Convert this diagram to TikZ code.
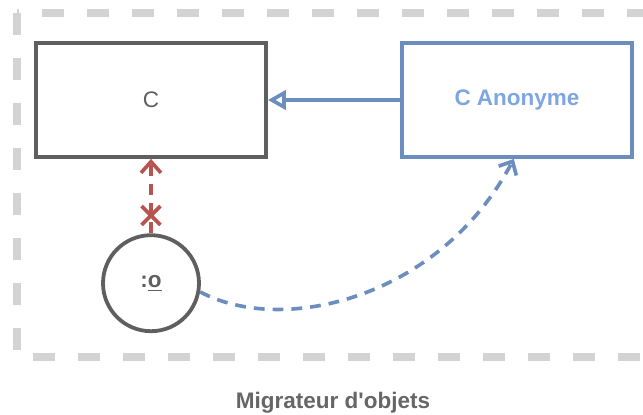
\documentclass[tikz,border=0pt]{standalone}
\usepackage{fontspec}
\setmainfont{Liberation Sans}
\usepackage{tikz}
\usetikzlibrary{shapes, shapes.misc, arrows.meta}
\definecolor{boxgray}{HTML}{5F5F5F}
\definecolor{anonblue}{HTML}{6C8EBF}
\definecolor{anontext}{HTML}{7EA6E0}
\definecolor{bloquered}{HTML}{B85450}
\definecolor{cadregray}{HTML}{D3D3D3}
\definecolor{titregray}{HTML}{666666}
\tikzstyle{classbox} = [draw=boxgray, rectangle, line width=2.7pt, minimum width=5.75cm, minimum height=2.85cm, align=center, text=boxgray, font=\fontsize{16}{19}\selectfont]
\tikzstyle{anonbox} = [classbox, draw=anonblue, text=anontext, font=\fontsize{16}{19}\selectfont\bfseries]
\tikzstyle{objet} = [draw=boxgray, circle, line width=2.7pt, minimum size=2.4cm, inner sep=0pt, text=boxgray, font=\fontsize{16}{19}\selectfont\bfseries]
\tikzstyle{herit} = [-{Triangle[open, length=0.45cm, width=0.48cm]}, draw=anonblue, line width=2.6pt]
\tikzstyle{migre} = [-{Straight Barb[length=0.27cm, width=0.5cm]}, draw=anonblue, line width=2.6pt, dash pattern=on 0.27cm off 0.2cm]
\tikzstyle{bloque} = [-{Straight Barb[length=0.28cm, width=0.5cm]}, draw=bloquered, line width=2.6pt, dash pattern=on 0.28cm off 0.2cm]
\tikzstyle{croix} = [cross out, draw=bloquered, solid, line width=2.6pt, minimum size=0.38cm, inner sep=0pt]
\tikzstyle{cadre} = [draw=cadregray, line width=5pt, dash pattern=on 0.55cm off 0.575cm]
\tikzstyle{titre} = [text=titregray, font=\fontsize{16}{19}\selectfont\bfseries]

\begin{document}
\begin{tikzpicture}
    \useasboundingbox (0,0) rectangle (16.075,-10.35);
    \draw[cadre] (0.425,-0.325) rectangle (16.6,-8.925);
    \node[classbox] (c) at (3.775,-2.5) {C};
    \node[anonbox, right of=c, node distance=9.15cm] (anon) {C Anonyme};
    \node[objet, below of=c, node distance=4.58cm] (o) {:\underline{o}};
    \draw[herit] (anon) -- (c);
    \draw[bloque] (o.north) -- node[croix, pos=0.24] {} (c.south);
    \draw[migre] (o.-10) .. controls +(2.05,-1.1) and +(-1.85,-3.5) .. ([xshift=-0.08cm]anon.south);
    \node[titre] (titre) at (8.325,-10.06) {Migrateur d\textquotesingle objets};
  \end{tikzpicture}
\end{document}
